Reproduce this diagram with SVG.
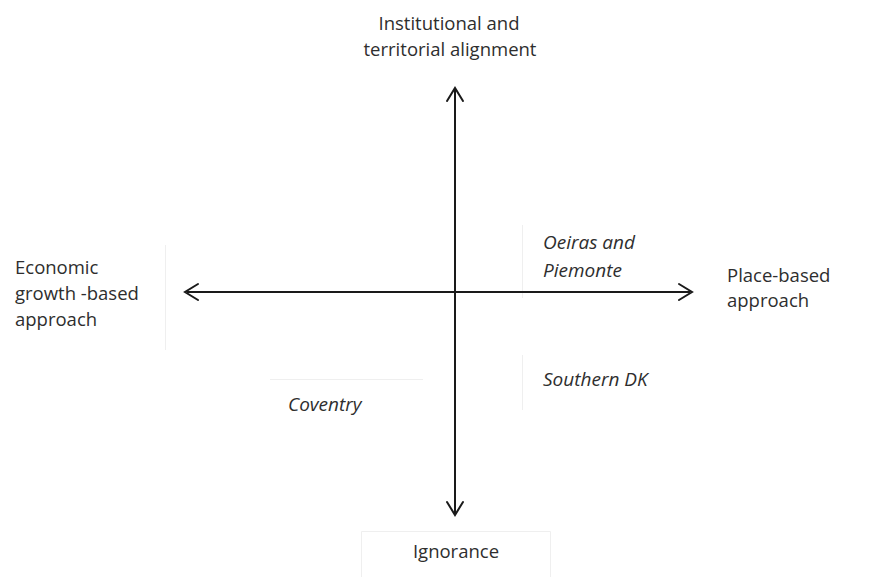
<svg xmlns="http://www.w3.org/2000/svg" width="883" height="577" viewBox="0 0 883 577">
  <style>
    .lbl { font-family: "Open Sans", "Liberation Sans", sans-serif; font-size: 18.5px; fill: #2e2e2e; }
    .case { font-style: italic; font-size: 19px; }
    .axis { stroke: #1a1a1a; stroke-width: 2; fill: none; }
    .head { stroke: #1a1a1a; stroke-width: 2; fill: none; stroke-linecap: round; stroke-linejoin: miter; }
    .frame { stroke: #efefef; stroke-width: 1; fill: none; }
  </style>
  <rect width="883" height="577" fill="#ffffff"/>

  <!-- faint text-box edges -->
  <g id="frames">
    <line class="frame" x1="165.5" y1="245" x2="165.5" y2="350"/>
    <line class="frame" x1="270" y1="379.5" x2="423" y2="379.5"/>
    <line class="frame" x1="522.5" y1="225" x2="522.5" y2="298"/>
    <line class="frame" x1="522.5" y1="355" x2="522.5" y2="410"/>
    <polyline class="frame" points="361.5,577 361.5,531.5 550.5,531.5 550.5,577"/>
  </g>

  <!-- axes -->
  <g id="connectors">
    <line class="axis" x1="455" y1="90" x2="455" y2="513"/>
    <line class="axis" x1="187" y1="292" x2="690" y2="292"/>
    <polyline class="head" points="447,101 455,88 463,101"/>
    <polyline class="head" points="447,502 455,515 463,502"/>
    <polyline class="head" points="198,284 185,292 198,300"/>
    <polyline class="head" points="679,284 692,292 679,300"/>
  </g>

  <g id="top">
    <text class="lbl" x="449" y="30" text-anchor="middle">Institutional and</text>
    <text class="lbl" x="450" y="56" text-anchor="middle">territorial alignment</text>
  </g>
  <g id="left">
    <text class="lbl" x="15" y="274">Economic</text>
    <text class="lbl" x="15" y="300">growth -based</text>
    <text class="lbl" x="15" y="326">approach</text>
  </g>
  <g id="right">
    <text class="lbl" x="727" y="282">Place-based</text>
    <text class="lbl" x="727" y="307">approach</text>
  </g>
  <g id="bottom">
    <text class="lbl" x="456" y="558" text-anchor="middle">Ignorance</text>
  </g>
  <g id="oeiras">
    <text class="lbl case" x="543" y="249">Oeiras and</text>
    <text class="lbl case" x="543" y="277">Piemonte</text>
  </g>
  <g id="southern-dk">
    <text class="lbl case" x="543" y="386">Southern DK</text>
  </g>
  <g id="coventry">
    <text class="lbl case" x="288" y="411">Coventry</text>
  </g>
</svg>
